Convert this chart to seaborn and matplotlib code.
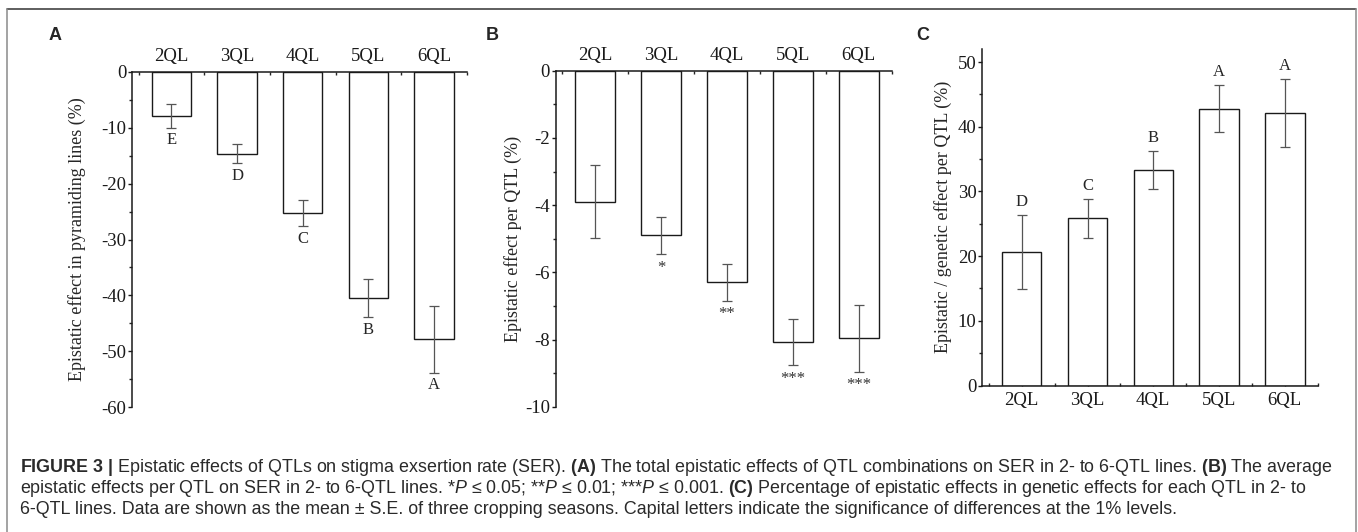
import matplotlib
matplotlib.use("Agg")
import matplotlib.pyplot as plt
import numpy as np
import seaborn as sns
from matplotlib import font_manager
from matplotlib.ticker import AutoMinorLocator, MultipleLocator

# data (mean and S.E.)
lines = ["2QL", "3QL", "4QL", "5QL", "6QL"]

a_mean = [-7.85, -14.65, -25.3, -40.5, -47.9]
a_se = [2.1, 1.7, 2.3, 3.4, 6.0]
a_groups = ["E", "D", "C", "B", "A"]

b_mean = [-3.9, -4.9, -6.3, -8.08, -7.96]
b_se = [1.09, 0.56, 0.55, 0.69, 1.0]
b_stars = ["", "*", "**", "***", "***"]

c_mean = [20.6, 25.85, 33.35, 42.8, 42.1]
c_se = [5.75, 3.0, 2.9, 3.6, 5.3]
c_groups = ["D", "C", "B", "A", "A"]

W, H = 1358, 532

sns.set_style("ticks")
plt.rcParams["font.family"] = ["Liberation Serif", "DejaVu Serif"]
plt.rcParams["axes.unicode_minus"] = False
plt.rcParams["axes.linewidth"] = 1.1
plt.rcParams["axes.edgecolor"] = "#1a1a1a"

names = {f.name for f in font_manager.fontManager.ttflist}
cap_font = "Liberation Sans Narrow" if "Liberation Sans Narrow" in names else "Liberation Sans"
plt.rcParams["mathtext.fontset"] = "custom"
plt.rcParams["mathtext.rm"] = cap_font
plt.rcParams["mathtext.bf"] = cap_font + ":bold"
plt.rcParams["mathtext.it"] = cap_font + ":italic"

fig = plt.figure(figsize=(W / 100, H / 100), dpi=100)


def px_axes(left, top, right, bottom):
    return fig.add_axes([left / W, 1 - bottom / H, (right - left) / W, (bottom - top) / H])


def bar_panel(ax, means, errs, ylim, major, top_axis, ylabel, label_x):
    sns.barplot(x=lines, y=means, ax=ax, color="white", edgecolor="#1a1a1a",
                linewidth=1.0, width=0.6, errorbar=None, saturation=1)
    ax.errorbar(np.arange(len(lines)), means, yerr=errs, fmt="none", ecolor="#555555",
                elinewidth=0.9, capsize=3.5, capthick=0.9, zorder=5)
    ax.set_xlim(-0.6, 4.5)
    ax.set_ylim(*ylim)
    ax.yaxis.set_major_locator(MultipleLocator(major))
    ax.yaxis.set_minor_locator(AutoMinorLocator(2))
    ax.set_xticks(np.arange(len(lines) + 1) - 0.5, minor=True)
    ax.set_xlabel("")
    ax.set_ylabel(ylabel, fontsize=13)
    ax.yaxis.set_label_coords(label_x, 0.5)
    if top_axis:
        ax.xaxis.tick_top()
        ax.spines["bottom"].set_visible(False)
    else:
        ax.spines["top"].set_visible(False)
    ax.spines["right"].set_visible(False)
    ax.tick_params(axis="x", which="major", direction="in", length=3.6, width=1.0,
                   pad=5, labelsize=13.5, colors="#1a1a1a")
    ax.tick_params(axis="x", which="minor", direction="in", length=2.2, width=1.0)
    ax.tick_params(axis="y", which="major", direction="out", length=3, width=1.0,
                   pad=1.2, labelsize=13.5, colors="#1a1a1a")
    ax.tick_params(axis="y", which="minor", direction="out", length=2, width=1.0)


# panel A
ax_a = px_axes(132, 72, 467, 407)
bar_panel(ax_a, a_mean, a_se, (-60, 0), 10, True,
          "Epistatic effect in pyramiding lines (%)", -0.137)
for i, (m, e, g) in enumerate(zip(a_mean, a_se, a_groups)):
    ax_a.annotate(g, (i, m - e), xytext=(0, -9), textcoords="offset points",
                  ha="center", va="center", fontsize=12)

# panel B
ax_b = px_axes(555.7, 70.7, 891.7, 406.7)
bar_panel(ax_b, b_mean, b_se, (-10, 0), 2, True,
          "Epistatic effect per QTL (%)", -0.10)
for i, (m, e, s) in enumerate(zip(b_mean, b_se, b_stars)):
    ax_b.annotate(s, (i, m - e), xytext=(0, -12.5), textcoords="offset points",
                  ha="center", va="baseline", fontsize=12, color="#333333")

# panel C
ax_c = px_axes(982.3, 49.1, 1317.7, 385.5)
bar_panel(ax_c, c_mean, c_se, (0, 52), 10, False,
          "Epistatic / genetic effect per QTL (%)", -0.09)
for i, (m, e, g) in enumerate(zip(c_mean, c_se, c_groups)):
    ax_c.annotate(g, (i, m + e), xytext=(0, 9.5), textcoords="offset points",
                  ha="center", va="center", fontsize=12)

# panel letters
for lab, x in zip(["A", "B", "C"], [55, 492.7, 922.3]):
    fig.text(x / W, 1 - 36 / H, lab, family="Liberation Sans", weight="bold",
             fontsize=13, ha="center", va="center")

# frame around the figure
fig.add_artist(plt.Line2D([7 / W, 1356 / W], [1 - 9 / H, 1 - 9 / H], color="#333333", lw=1.1))
fig.add_artist(plt.Line2D([7 / W, 7 / W], [0, 1 - 9 / H], color="#8a8a8a", lw=1.1))
fig.add_artist(plt.Line2D([1356 / W, 1356 / W], [0, 1 - 9 / H], color="#8a8a8a", lw=1.1))

# caption
caption = [
    r"$\mathbf{FIGURE\ 3\ |}$ Epistatic effects of QTLs on stigma exsertion rate (SER). "
    r"$\mathbf{(A)}$ The total epistatic effects of QTL combinations on SER in 2- to 6-QTL lines. "
    r"$\mathbf{(B)}$ The average",
    r"epistatic effects per QTL on SER in 2- to 6-QTL lines. *$P$ ≤ 0.05; **$P$ ≤ 0.01; "
    r"***$P$ ≤ 0.001. $\mathbf{(C)}$ Percentage of epistatic effects in genetic effects for each QTL in 2- to",
    "6-QTL lines. Data are shown as the mean ± S.E. of three cropping seasons. "
    "Capital letters indicate the significance of differences at the 1% levels.",
]
cap_texts = []
for k, line in enumerate(caption):
    t = fig.text(20 / W, 1 - (471.5 + 21.3 * k) / H, line, family=cap_font,
                 fontsize=10.5, color="#2a2a2a", ha="left", va="baseline")
    cap_texts.append(t)

# stretch the caption so the first line spans the frame like the original
fig.canvas.draw()
width = cap_texts[0].get_window_extent().width
scale = (1337 - 20) / width
for t in cap_texts:
    t.set_fontsize(10.5 * scale)

fig.savefig("out.png", dpi=100)
